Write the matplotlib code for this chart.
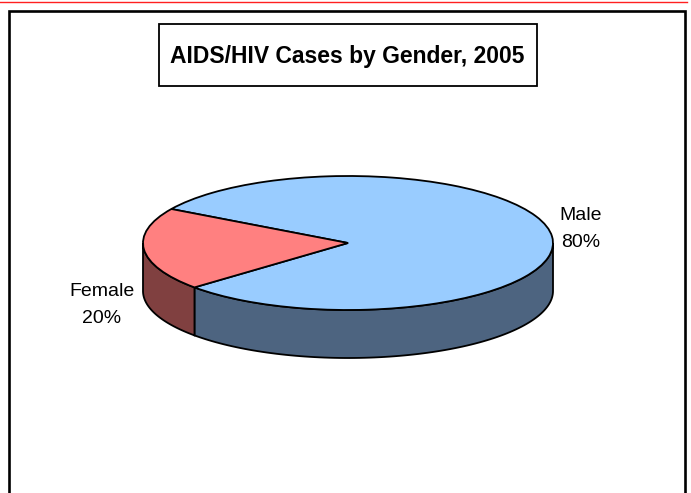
import numpy as np
import matplotlib.pyplot as plt
from matplotlib.patches import Wedge, Polygon, Rectangle
from matplotlib.transforms import Affine2D

W, H = 691, 493
DPI = 100

TITLE = 'AIDS/HIV Cases by Gender, 2005'
labels = ['Male', 'Female']
values = [80, 20]
top_colors = ['#99CCFF', '#FF8080']
side_colors = ['#4D6480', '#804040']

# pie geometry (pixels)
CX, CY = 348, 243
RX, RY = 205, 67
DEPTH = 48
START = 221.5

FONT = ['Liberation Sans', 'DejaVu Sans']


def main():
    fig = plt.figure(figsize=(W / DPI, H / DPI), dpi=DPI)
    ax = fig.add_axes([0, 0, 1, 1])
    ax.set_xlim(0, W)
    ax.set_ylim(H, 0)
    ax.axis('off')

    # unit circle -> ellipse on screen
    unit = Affine2D().scale(RX, -RY).translate(CX, CY) + ax.transData
    dz = DEPTH / RY

    fracs = np.array(values) / np.sum(values)
    angles = START + 360 * np.concatenate([[0], np.cumsum(fracs)])

    # sides (front half only: 180..360 degrees)
    for i in range(len(values)):
        t1, t2 = angles[i], angles[i + 1]
        for k in range(-1, 3):
            lo = max(t1, 180 + 360 * k)
            hi = min(t2, 360 + 360 * k)
            if hi <= lo:
                continue
            t = np.radians(np.linspace(lo, hi, 100))
            top = np.column_stack([np.cos(t), np.sin(t)])
            bot = top[::-1] - [0, dz]
            ax.add_patch(Polygon(np.vstack([top, bot]), closed=True,
                                 facecolor=side_colors[i], edgecolor='black',
                                 linewidth=1.3, transform=unit, zorder=2))

    # top surface
    for i in range(len(values)):
        ax.add_patch(Wedge((0, 0), 1, angles[i], angles[i + 1],
                           facecolor=top_colors[i], edgecolor='black',
                           linewidth=1.3, transform=unit, zorder=3))

    # data labels
    label_pos = [(581, 229), (102, 305)]
    for lab, v, (x, y) in zip(labels, values, label_pos):
        ax.text(x, y, '%s\n%d%%' % (lab, v), ha='center', va='center',
                fontsize=14, family=FONT, linespacing=1.75, zorder=4)

    # title box
    ax.add_patch(Rectangle((159, 24), 378, 62, facecolor='white',
                           edgecolor='black', linewidth=1.3, zorder=4))
    ax.text(347, 56, TITLE, ha='center', va='center', fontsize=16.5,
            fontweight='bold', family=FONT, zorder=5)

    # chart frame and red rule
    ax.plot([8.7, 8.7, 684.7, 684.7], [H + 5, 11, 11, H + 5], color='black',
            linewidth=1.9, solid_joinstyle='miter', zorder=1)
    ax.plot([0, 687], [2, 2], color='#FF2020', linewidth=1.0, zorder=1)

    fig.savefig('out.png', dpi=DPI)
    plt.close('all')


if __name__ == '__main__':
    main()
